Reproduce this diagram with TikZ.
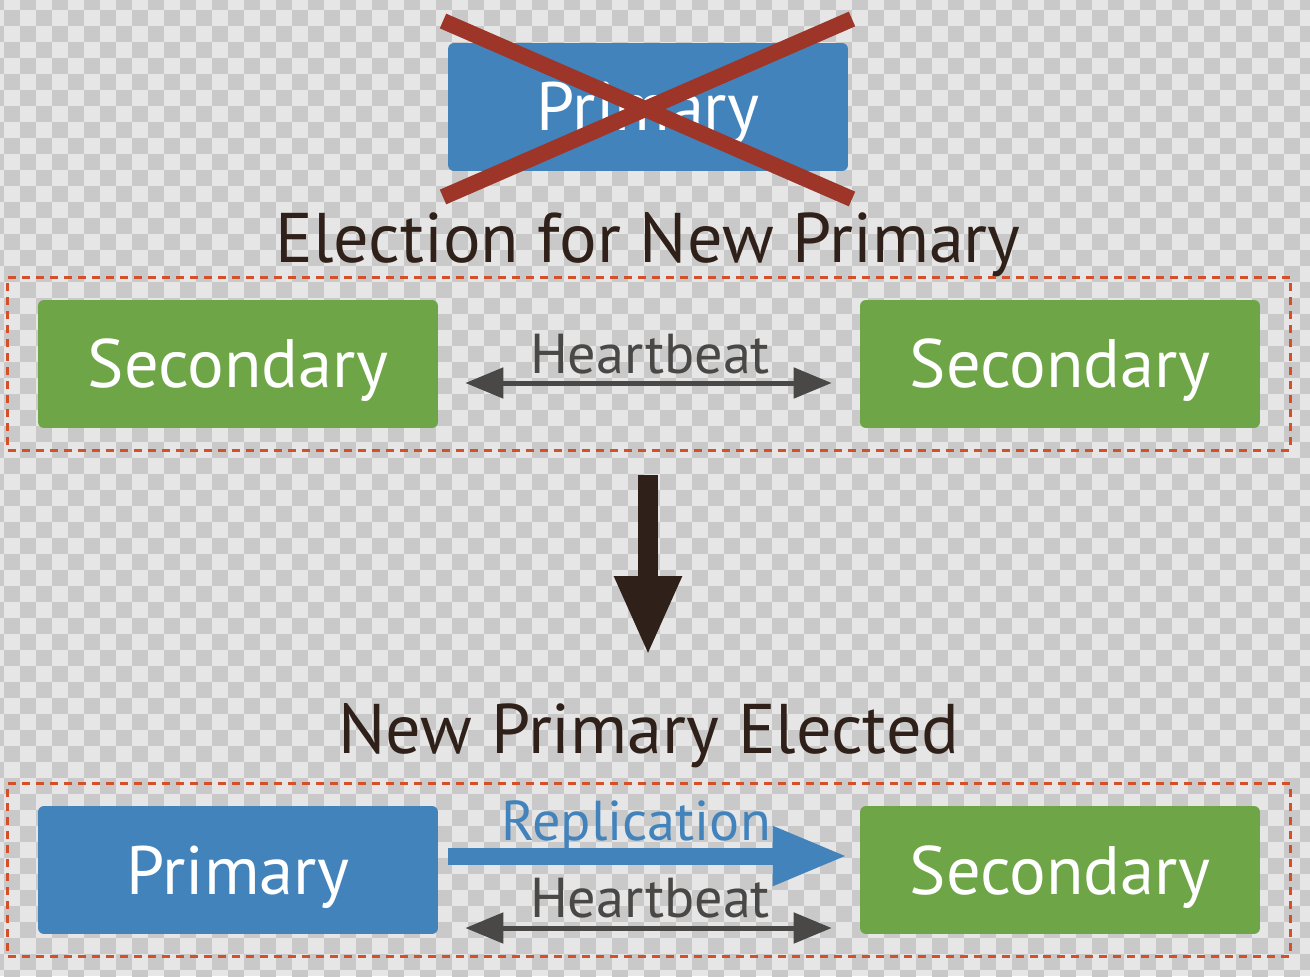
\documentclass[tikz,border=0pt]{standalone}
\usepackage{fontspec}
\setmainfont{PT Sans}
\usetikzlibrary{positioning,arrows.meta,fit}
\definecolor{nodeblue}{RGB}{67,131,188}
\definecolor{nodegreen}{RGB}{110,165,70}
\definecolor{crossred}{RGB}{157,53,40}
\definecolor{groupred}{RGB}{212,80,42}
\definecolor{titledark}{RGB}{47,33,25}
\definecolor{beatgray}{RGB}{74,72,70}
\definecolor{checklight}{RGB}{230,230,230}
\definecolor{checkdark}{RGB}{201,201,201}
\newcommand{\boxfont}{\fontsize{39}{40}\selectfont}
\newcommand{\titlefont}{\fontsize{40}{41}\selectfont}
\newcommand{\beatfont}{\fontsize{32}{33}\selectfont}

\begin{document}
\begin{tikzpicture}[x=0.02cm,y=-0.02cm,
    member/.style={rounded corners=0.12cm,minimum width=8cm,minimum height=2.56cm,inner sep=0pt,text=white,font=\boxfont,text height=0.96cm,text depth=0pt},
    primary/.style={member,fill=nodeblue},
    secondary/.style={member,fill=nodegreen},
    group/.style={draw=groupred,line width=0.07cm,dash pattern=on 0.16cm off 0.12cm,inner xsep=0.6cm,inner ysep=0.44cm},
    title/.style={anchor=base,text=titledark,font=\titlefont},
    beatlabel/.style={anchor=base,text=beatgray,font=\beatfont},
    beat/.style={{Triangle[length=0.76cm,width=0.6cm]}-{Triangle[length=0.76cm,width=0.6cm]},line width=0.1cm,draw=beatgray},
    repl/.style={-{Triangle[length=1.5cm,width=1.1cm]},line width=0.34cm,draw=nodeblue},
    cross/.style={draw=crossred,line width=0.32cm}]
  \useasboundingbox (0,0) rectangle (1310,976);
  % transparency checkers
  \begin{scope}
    \clip (0,0) rectangle (1310,976);
    \fill[checklight] (0,0) rectangle (1310,976);
    \foreach \i in {0,...,83}{
      \pgfmathtruncatemacro\off{mod(\i,2)}
      \foreach \j in {0,...,31}{
        \fill[checkdark] (-12+16*\i,-6+32*\j+16*\off) rectangle ++(16,16);
      }
    }
  \end{scope}

  % old primary, crossed out
  \node[primary] (old) at (648,107) {Primary};
  \coordinate (xa) at (443,21);
  \coordinate (xb) at (852,199);
  \coordinate (xc) at (443,197);
  \coordinate (xd) at (852,19);
  \draw[cross] (xa) -- (xb);
  \draw[cross] (xc) -- (xd);

  % election
  \node[title] (election) at (648,263) {Election for New Primary};
  \node[secondary] (s1) at (238,364) {Secondary};
  \node[secondary] (s2) at (1060,364) {Secondary};
  \node[group,fit=(s1)(s2)] (grp1) {};
  \draw[beat] ([shift={(27,19)}]s1.east) -- ([shift={(-28,19)}]s2.west);
  \node[beatlabel] (hb1) at (650,373) {Heartbeat};

  \coordinate (down1) at (648,475);
  \coordinate (down2) at (648,656);
  \draw[-{Triangle[length=1.6cm,width=1.24cm]},line width=0.4cm,draw=titledark] (down1) -- (down2);

  % new primary
  \node[title] (elected) at (649,753) {New Primary Elected};
  \node[primary] (p) at (238,870) {Primary};
  \node[secondary] (s3) at (1060,870) {Secondary};
  \node[group,fit=(p)(s3)] (grp2) {};
  \draw[repl] ([shift={(10,-14)}]p.east) -- ([shift={(-12,-14)}]s3.west);
  \node[beatlabel,text=nodeblue] (rep) at (636,840) {Replication};
  \draw[beat] ([shift={(27,58)}]p.east) -- ([shift={(-28,58)}]s3.west);
  \node[beatlabel] (hb2) at (650,917) {Heartbeat};
\end{tikzpicture}
\end{document}
